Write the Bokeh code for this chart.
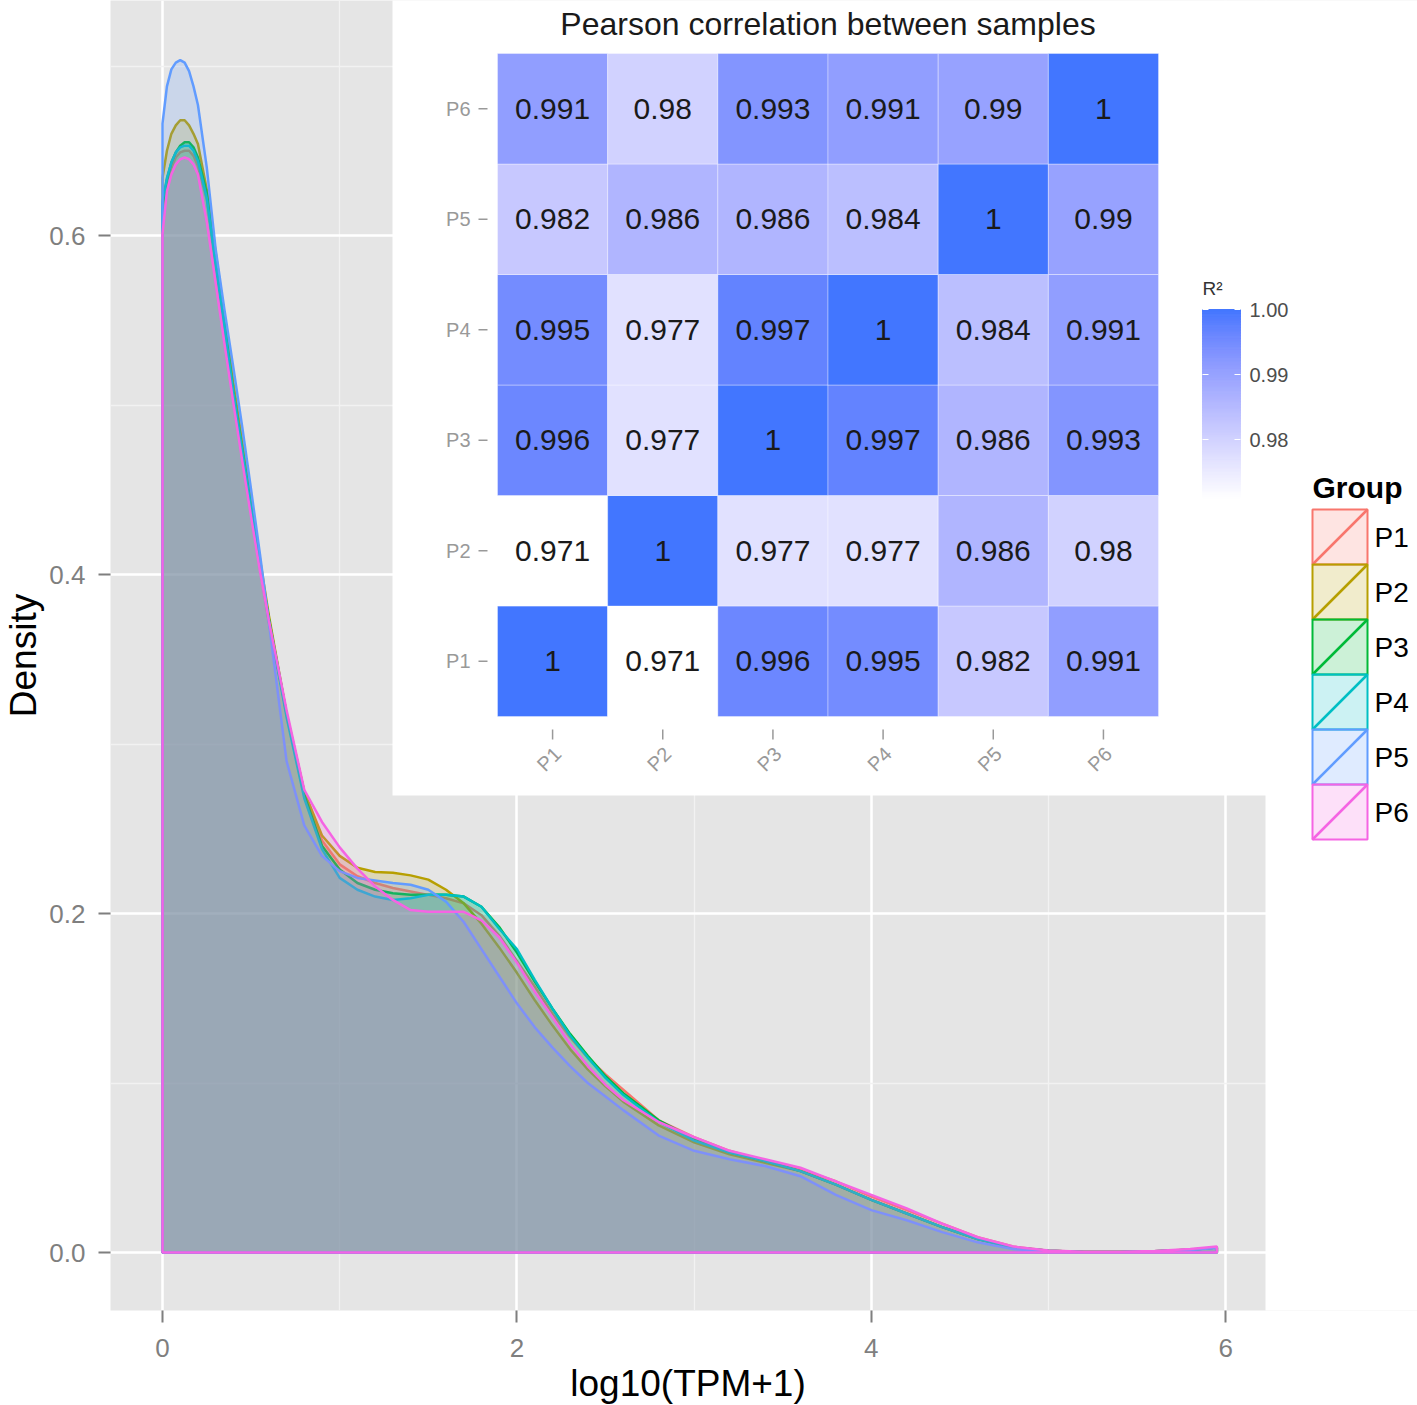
import numpy as np
from bokeh.plotting import figure
from bokeh.models import Range1d, FixedTicker, PrintfTickFormatter, Title
from bokeh.core.properties import value
from bokeh.embed import file_html
from bokeh.resources import INLINE

# ---------------- data ----------------
SERIES = ["P1", "P2", "P3", "P4", "P5", "P6"]
COLORS = ["#F8766D", "#B79F00", "#00BA38", "#00BFC4", "#619CFF", "#F564E3"]

X = [0, 0.025, 0.05, 0.075, 0.1, 0.125, 0.15, 0.175, 0.2, 0.25, 0.3, 0.35, 0.4, 0.45, 0.5, 0.55, 0.6, 0.7, 0.8, 0.9,
     1.0, 1.1, 1.2, 1.3, 1.4, 1.5, 1.6, 1.7, 1.8, 1.9, 2.0, 2.1, 2.2, 2.3, 2.4, 2.5, 2.6,
     2.8, 3.0, 3.2, 3.4, 3.6, 3.8, 4.0, 4.2, 4.4, 4.6, 4.8, 5.0, 5.2, 5.4, 5.6, 5.8, 5.95]

P1 = [0.615, 0.630, 0.640, 0.646, 0.649, 0.650, 0.650, 0.647, 0.641, 0.621, 0.582, 0.545, 0.505, 0.471, 0.437, 0.404, 0.372, 0.318, 0.272, 0.243,
      0.229, 0.222, 0.218, 0.215, 0.213, 0.211, 0.209, 0.206, 0.199, 0.187, 0.172, 0.157, 0.141, 0.127, 0.115, 0.105, 0.096,
      0.078, 0.068, 0.060, 0.054, 0.049, 0.042, 0.033, 0.025, 0.017, 0.009, 0.0035, 0.001, 0.0004, 0.0004, 0.0008, 0.0018, 0.003]
P2 = [0.634, 0.650, 0.660, 0.665, 0.668, 0.668, 0.665, 0.660, 0.654, 0.627, 0.590, 0.552, 0.513, 0.478, 0.443, 0.409, 0.376, 0.318, 0.272, 0.246,
      0.234, 0.227, 0.2245, 0.224, 0.2225, 0.220, 0.214, 0.206, 0.194, 0.180, 0.165, 0.149, 0.134, 0.120, 0.108, 0.098, 0.089,
      0.075, 0.065, 0.058, 0.053, 0.048, 0.040, 0.031, 0.023, 0.015, 0.008, 0.003, 0.001, 0.0003, 0.0003, 0.0007, 0.0016, 0.003]
P3 = [0.618, 0.633, 0.643, 0.649, 0.653, 0.655, 0.655, 0.652, 0.646, 0.625, 0.586, 0.548, 0.508, 0.474, 0.440, 0.406, 0.374, 0.318, 0.270, 0.240,
      0.226, 0.218, 0.214, 0.212, 0.211, 0.211, 0.211, 0.210, 0.204, 0.192, 0.177, 0.160, 0.144, 0.129, 0.116, 0.104, 0.094,
      0.078, 0.067, 0.059, 0.054, 0.048, 0.040, 0.031, 0.023, 0.015, 0.008, 0.003, 0.001, 0.0003, 0.0003, 0.0007, 0.0016, 0.003]
P4 = [0.620, 0.634, 0.643, 0.649, 0.652, 0.653, 0.653, 0.650, 0.644, 0.622, 0.583, 0.546, 0.507, 0.473, 0.439, 0.405, 0.373, 0.316, 0.268, 0.238,
      0.221, 0.214, 0.210, 0.208, 0.209, 0.211, 0.211, 0.210, 0.204, 0.191, 0.179, 0.161, 0.144, 0.128, 0.115, 0.103, 0.093,
      0.077, 0.066, 0.059, 0.054, 0.048, 0.040, 0.031, 0.023, 0.015, 0.008, 0.003, 0.001, 0.0003, 0.0003, 0.0007, 0.0016, 0.003]
P5 = [0.666, 0.688, 0.698, 0.702, 0.7035, 0.702, 0.697, 0.688, 0.677, 0.640, 0.592, 0.556, 0.522, 0.487, 0.450, 0.412, 0.372, 0.290, 0.252, 0.234,
      0.225, 0.221, 0.2195, 0.218, 0.217, 0.214, 0.207, 0.195, 0.179, 0.163, 0.147, 0.133, 0.121, 0.110, 0.100, 0.092, 0.084,
      0.069, 0.060, 0.055, 0.051, 0.045, 0.034, 0.025, 0.019, 0.012, 0.006, 0.002, 0.0005, 0.0002, 0.0002, 0.0006, 0.0015, 0.0028]
P6 = [0.601, 0.626, 0.636, 0.642, 0.645, 0.646, 0.645, 0.642, 0.636, 0.608, 0.572, 0.536, 0.501, 0.467, 0.434, 0.402, 0.373, 0.320, 0.273, 0.254,
      0.239, 0.2265, 0.216, 0.208, 0.202, 0.201, 0.201, 0.201, 0.196, 0.186, 0.171, 0.154, 0.139, 0.123, 0.110, 0.099, 0.090,
      0.077, 0.068, 0.060, 0.055, 0.050, 0.042, 0.034, 0.026, 0.017, 0.009, 0.0035, 0.0012, 0.0004, 0.0004, 0.0009, 0.002, 0.0035]
DENSITIES = [P1, P2, P3, P4, P5, P6]

# correlation matrix: row = sample on heatmap y axis, column = sample on x axis
CORR = [
    [1, 0.971, 0.996, 0.995, 0.982, 0.991],
    [0.971, 1, 0.977, 0.977, 0.986, 0.98],
    [0.996, 0.977, 1, 0.997, 0.986, 0.993],
    [0.995, 0.977, 0.997, 1, 0.984, 0.991],
    [0.982, 0.986, 0.986, 0.984, 1, 0.99],
    [0.991, 0.98, 0.993, 0.991, 0.99, 1],
]

X_TICKS = [0, 2, 4, 6]
X_MINOR = [1, 3, 5]
Y_TICKS = [0.0, 0.2, 0.4, 0.6]
Y_MINOR = [0.1, 0.3, 0.5, 0.7]
CB_TICKS = [0.98, 0.99, 1.00]

# ---------------- colour scale (Lab interpolation white -> blue) ----------------
def _hex_rgb(h):
    h = h.lstrip("#")
    return np.array([int(h[i:i + 2], 16) / 255.0 for i in (0, 2, 4)])

def _rgb_lab(c):
    c = np.where(c <= 0.04045, c / 12.92, ((c + 0.055) / 1.055) ** 2.4)
    M = np.array([[0.4124, 0.3576, 0.1805], [0.2126, 0.7152, 0.0722], [0.0193, 0.1192, 0.9505]])
    xyz = M @ c / np.array([0.95047, 1.0, 1.08883])
    d = 6 / 29
    f = np.where(xyz > d ** 3, np.cbrt(xyz), xyz / (3 * d * d) + 4 / 29)
    return np.array([116 * f[1] - 16, 500 * (f[0] - f[1]), 200 * (f[1] - f[2])])

def _lab_hex(lab):
    L, a, b = lab
    fy = (L + 16) / 116
    f = np.array([fy + a / 500, fy, fy - b / 200])
    d = 6 / 29
    xyz = np.where(f > d, f ** 3, 3 * d * d * (f - 4 / 29)) * np.array([0.95047, 1.0, 1.08883])
    Minv = np.array([[3.2406, -1.5372, -0.4986], [-0.9689, 1.8758, 0.0415], [0.0557, -0.2040, 1.0570]])
    c = np.clip(Minv @ xyz, 0, 1)
    c = np.where(c <= 0.0031308, 12.92 * c, 1.055 * c ** (1 / 2.4) - 0.055)
    c = np.clip(np.round(c * 255), 0, 255).astype(int)
    return "#%02x%02x%02x" % tuple(c)

LOW_LAB = _rgb_lab(_hex_rgb("#FFFFFF"))
HIGH_LAB = _rgb_lab(_hex_rgb("#4276FF"))
VMIN = min(min(r) for r in CORR)
VMAX = max(max(r) for r in CORR)

def fill_for(v):
    t = (v - VMIN) / (VMAX - VMIN)
    return _lab_hex(LOW_LAB + t * (HIGH_LAB - LOW_LAB))

# ---------------- geometry (page pixels, page has no margin) ----------------
FONT = "Liberation Sans"
FIG_W, FIG_H = 1417, 1405
FR_L, FR_T, FR_B = 110, 0, 1310        # frame (extends to right edge of figure)
PANEL_R = 1265                          # right edge of the grey panel
FR_R = FIG_W
X0_PX, XU = 162, 177.2                  # x=0 position and px per unit
Y0_PX, YU = 1252, 1695                  # y=0 position and px per unit
HX0, CW = 497, 110.17                   # heatmap left edge, cell width
HY0, CH = 716, 110.5                    # heatmap bottom edge, cell height
CB1_PX, CBU = 309, 6500.0               # colour bar: position of 1.00, px per unit

p = figure(width=FIG_W, height=FIG_H, toolbar_location=None, output_backend="svg",
           x_range=Range1d((FR_L - X0_PX) / XU, (FR_R - X0_PX) / XU),
           y_range=Range1d(-(FR_B - Y0_PX) / YU, (Y0_PX - FR_T) / YU),
           min_border_left=FR_L, min_border_right=0,
           min_border_top=FR_T, min_border_bottom=FIG_H - FR_B,
           background_fill_color="#E5E5E5", border_fill_color="white")
p.outline_line_color = None
p.extra_x_ranges = {"hx": Range1d((FR_L - HX0) / CW, (FR_R - HX0) / CW),
                    "px": Range1d(FR_L, FR_R)}
p.extra_y_ranges = {"hy": Range1d((HY0 - FR_B) / CH, (HY0 - FR_T) / CH),
                    "cb": Range1d(1.0 - (FR_B - CB1_PX) / CBU, 1.0 + (CB1_PX - FR_T) / CBU),
                    "py": Range1d(FR_B, FR_T)}

# axes
p.xaxis.ticker = FixedTicker(ticks=X_TICKS, minor_ticks=X_MINOR)
p.yaxis.ticker = FixedTicker(ticks=Y_TICKS, minor_ticks=Y_MINOR)
p.yaxis.formatter = PrintfTickFormatter(format="%.1f")
for ax in (p.xaxis[0], p.yaxis[0]):
    ax.axis_line_color = None
    ax.minor_tick_line_color = None
    ax.major_tick_line_color = "#7F7F7F"
    ax.major_tick_line_width = 2
    ax.major_tick_in = 0
    ax.major_tick_out = 12
    ax.major_label_text_font = FONT
    ax.major_label_text_font_size = "26px"
    ax.major_label_text_color = "#7F7F7F"
    ax.axis_label_text_font = FONT
    ax.axis_label_text_font_size = "37px"
    ax.axis_label_text_font_style = "normal"
    ax.axis_label_text_color = "black"
p.yaxis.axis_label = "Density"
p.xaxis.major_label_standoff = 16
p.yaxis.major_label_standoff = 13
p.yaxis.axis_label_standoff = 2

xlab = "log10(TPM+1)"
p.add_layout(Title(text=xlab, align="left", offset=(FR_L + PANEL_R) / 2 - FR_L - 6.363 * 37 / 2,
                   text_font=FONT, text_font_size="37px", text_font_style="normal",
                   text_color="black", standoff=3), "below")

for g in (p.xgrid[0], p.ygrid[0]):
    g.grid_line_color = "white"
    g.grid_line_width = 2.5
    g.minor_grid_line_color = "#F2F2F2"
    g.minor_grid_line_width = 1.3

# density polygons
for name, col, dens in zip(SERIES, COLORS, DENSITIES):
    xs = [X[0]] + X + [X[-1]]
    ys = [0.0] + dens + [0.0]
    p.patch(xs, ys, fill_color=col, fill_alpha=0.2, line_color=col, line_width=2.5)

# white areas: strip right of the panel and the inset background
p.quad(left=[PANEL_R, 392], right=[FR_R + 5, PANEL_R + 1], bottom=[FR_B + 5, 795], top=[FR_T - 5, FR_T - 5],
       fill_color="white", line_color=None, x_range_name="px", y_range_name="py")

# ---------------- inset heatmap ----------------
cx, cy, cc, ct = [], [], [], []
for j, rname in enumerate(SERIES):
    for i, cname in enumerate(SERIES):
        v = CORR[j][i]
        cx.append(i + 0.5)
        cy.append(j + 0.5)
        cc.append(fill_for(v))
        ct.append("%g" % v)
p.rect(x=cx, y=cy, width=1, height=1, fill_color=cc, line_color="white", line_alpha=0.35,
       line_width=1, x_range_name="hx", y_range_name="hy")
p.text(x=cx, y=cy, text=ct, text_font=value(FONT), text_font_size="30px", text_color="#1a1a1a",
       text_align="center", text_baseline="middle", x_range_name="hx", y_range_name="hy")

n = len(SERIES)
idx = [k + 0.5 for k in range(n)]
p.text(x=[(470 - HX0) / CW] * n, y=idx, text=SERIES, text_font=value(FONT),
       text_font_size="20px", text_color="#999999", text_align="right", text_baseline="middle",
       x_range_name="hx", y_range_name="hy")
p.segment(x0=[(478 - HX0) / CW] * n, x1=[(487 - HX0) / CW] * n, y0=idx, y1=idx,
          line_color="#999999", line_width=1.5, x_range_name="hx", y_range_name="hy")
p.segment(x0=idx, x1=idx, y0=[(HY0 - 729) / CH] * n, y1=[(HY0 - 739) / CH] * n,
          line_color="#999999", line_width=1.5, x_range_name="hx", y_range_name="hy")
p.text(x=[k + 0.5 + 5 / CW for k in range(n)], y=[(HY0 - 750) / CH] * n, text=SERIES,
       angle=np.pi / 4, text_font=value(FONT), text_font_size="20px", text_color="#999999",
       text_align="right", text_baseline="middle", x_range_name="hx", y_range_name="hy")
p.text(x=[n / 2], y=[(HY0 - 23) / CH], text=["Pearson correlation between samples"],
       text_font=value(FONT), text_font_size="32px", text_color="#1a1a1a", text_align="center",
       text_baseline="middle", x_range_name="hx", y_range_name="hy")

# colour bar
NSTEP = 120
edges = np.linspace(VMIN, VMAX, NSTEP + 1)
bar_cols = [fill_for((a + b) / 2) for a, b in zip(edges[:-1], edges[1:])]
p.quad(left=(1202 - HX0) / CW, right=(1240 - HX0) / CW, bottom=edges[:-1], top=edges[1:],
       fill_color=bar_cols, line_color=bar_cols, line_width=1, x_range_name="hx", y_range_name="cb")
for x0, x1 in (((1202 - HX0) / CW, (1208 - HX0) / CW), ((1234 - HX0) / CW, (1240 - HX0) / CW)):
    p.segment(x0=[x0] * len(CB_TICKS), x1=[x1] * len(CB_TICKS), y0=CB_TICKS, y1=CB_TICKS,
              line_color="white", line_width=1, x_range_name="hx", y_range_name="cb")
p.text(x=[(1249 - HX0) / CW] * len(CB_TICKS), y=CB_TICKS, text=["%.2f" % t for t in CB_TICKS],
       text_font=value(FONT), text_font_size="20px", text_color="#4d4d4d", text_align="left",
       text_baseline="middle", x_range_name="hx", y_range_name="cb")
p.text(x=[(1202 - HX0) / CW], y=[(HY0 - 288) / CH], text=["R\u00b2"], text_font=value(FONT),
       text_font_size="19px", text_color="#333333", text_align="left", text_baseline="middle",
       x_range_name="hx", y_range_name="hy")

# ---------------- legend (page pixel coordinates) ----------------
KEY_L, KEY_W, KEY_T, KEY_H = 1312, 55, 509, 55
for k, (name, col) in enumerate(zip(SERIES, COLORS)):
    top = KEY_T + k * KEY_H
    bot = top + KEY_H
    p.quad(left=KEY_L, right=KEY_L + KEY_W, top=top, bottom=bot, fill_color=col, fill_alpha=0.2,
           line_color=col, line_width=2, x_range_name="px", y_range_name="py")
    p.segment(x0=KEY_L, y0=bot, x1=KEY_L + KEY_W, y1=top, line_color=col, line_width=2.5,
              x_range_name="px", y_range_name="py")
    p.text(x=[KEY_L + KEY_W + 7], y=[(top + bot) / 2], text=[name], text_font=value(FONT),
           text_font_size="28px", text_color="black", text_align="left", text_baseline="middle",
           x_range_name="px", y_range_name="py")
p.text(x=[KEY_L], y=[487], text=["Group"], text_font=value(FONT), text_font_size="30px",
       text_font_style="bold", text_color="black", text_align="left", text_baseline="middle",
       x_range_name="px", y_range_name="py")

open("out.html", "w").write(file_html(p, INLINE))
